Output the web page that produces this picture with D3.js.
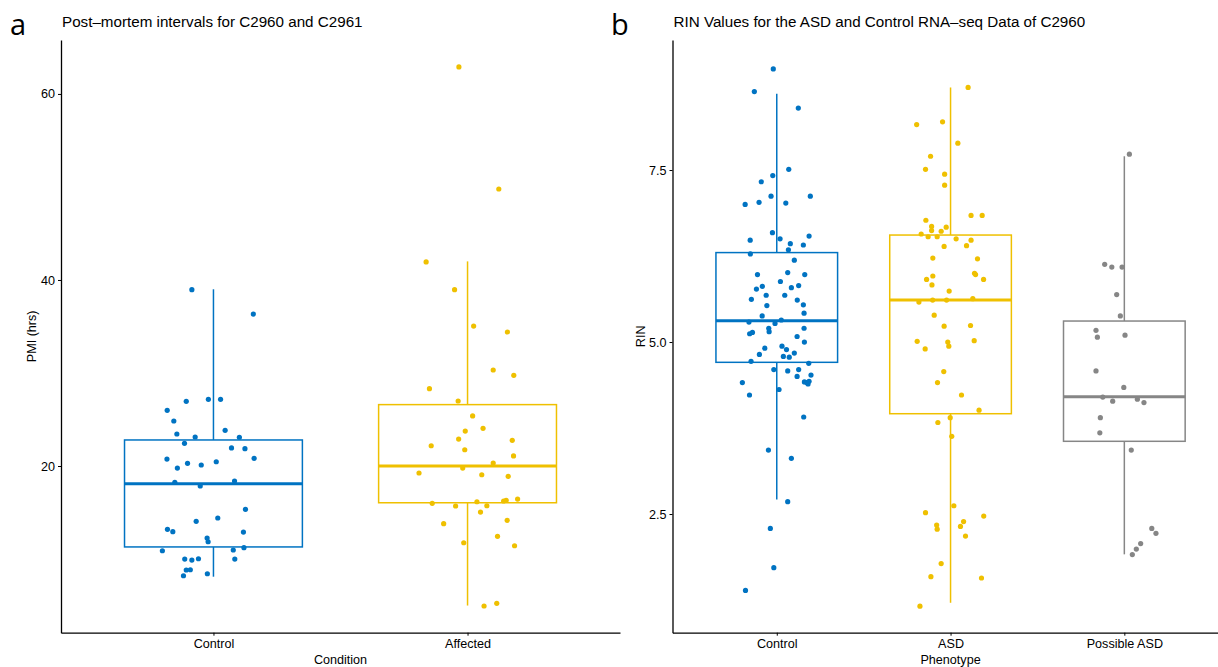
<!DOCTYPE html>
<html>
<head>
<meta charset="utf-8">
<script src="https://cdn.jsdelivr.net/npm/d3@7"></script>
<style>
  body { margin: 0; background: #fff; }
  svg { display: block; font-family: "Liberation Sans", Arial, sans-serif; }
  .axis path, .axis line { stroke: #000; }
  .axis text { fill: #000; font-size: 12.6px; }
</style>
</head>
<body>
<div id="chart"></div>
<script>
// Panel a: post-mortem intervals
var pmiGroups = ['Control', 'Affected'];
var pmiTicks = [20, 40, 60];
// box stats: [lowWhisker, q1, median, q3, highWhisker]
var pmiBoxes = [
    [8.1, 11.3, 18.1, 22.8, 39.0],
    [5.0, 16.05, 20.0, 26.6, 42.0]
];
var pmiControl = [38.96, 36.34, 26.96, 27.17, 27.17, 25.99, 24.84, 23.84, 23.44, 23.12, 23.09, 22.44,
    21.94, 21.86, 20.75, 20.83, 19.78, 20.29, 20.11, 20.46, 18.25, 17.85, 18.39, 15.34, 14.41, 14.05,
    13.19, 12.94, 12.90, 12.26, 11.86, 10.89, 10.97, 11.22, 10.0, 9.89, 10.03, 10.0, 8.82, 8.85, 8.20, 8.42];
var pmiControlJitter = [-0.085, 0.157, -0.107, -0.020, 0.028, -0.182, -0.156, 0.046, -0.144, -0.072, 0.102, -0.114,
    0.071, 0.124, -0.183, 0.160, -0.142, -0.102, -0.048, 0.011, -0.152, -0.052, 0.083, 0.126, 0.017, -0.068,
    -0.181, -0.160, 0.118, -0.025, -0.021, -0.201, 0.078, 0.120, -0.113, -0.085, -0.059, 0.084, -0.107, -0.091, -0.118, -0.024];
var pmiAffected = [62.9, 49.78, 41.94, 38.96, 35.05, 34.41, 30.32, 29.75, 28.31, 26.99, 25.38, 24.05, 23.76,
    22.90, 22.76, 22.18, 21.75, 21.08, 20.32, 19.78, 19.25, 19.06, 18.89, 15.99, 15.70, 16.16, 15.73, 15.05,
    16.24, 16.31, 16.45, 13.80, 14.16, 12.44, 11.75, 11.43, 4.95, 5.24];
var pmiAffectedJitter = [-0.034, 0.123, -0.163, -0.051, 0.024, 0.157, 0.101, 0.182, -0.150, -0.037, 0.020, 0.061, -0.009,
    -0.035, 0.176, -0.143, -0.011, 0.181, 0.101, -0.019, -0.191, 0.056, 0.160, -0.139, -0.047, 0.037, 0.076, 0.051,
    0.142, 0.152, 0.197, -0.094, 0.156, 0.118, -0.015, 0.185, 0.065, 0.115];

// Panel b: RIN values
var rinGroups = ['Control', 'ASD', 'Possible ASD'];
var rinTicks = [2.5, 5.0, 7.5];
var rinBoxes = [
    [2.71, 4.705, 5.31, 6.30, 8.61],
    [1.21, 3.958, 5.61, 6.555, 8.70],
    [1.914, 3.557, 4.205, 5.305, 7.70]
];
var rinControl = [8.97, 8.64, 8.40, 7.51, 7.42, 7.33, 7.12, 7.12, 7.00, 7.03, 7.02, 6.59, 6.48, 6.50, 6.54,
    6.43, 6.41, 6.34, 6.28, 6.19, 5.98, 6.01, 5.98, 5.88, 5.77, 5.81, 5.79, 5.82, 5.68, 5.68, 5.62, 5.61,
    5.53, 5.54, 5.42, 5.38, 5.32, 5.27, 5.29, 5.20, 5.20, 5.12, 5.14, 5.15, 5.08, 5.00, 4.91, 4.94, 4.89,
    4.82, 4.79, 4.78, 4.84, 4.72, 4.69, 4.60, 4.58, 4.60, 4.50, 4.52, 4.41, 4.42, 4.41, 4.39, 4.43, 4.23,
    4.31, 3.91, 3.43, 3.31, 2.68, 2.29, 1.72, 1.39];
var rinControlJitter = [-0.020, -0.129, 0.124, 0.069, -0.023, -0.089, 0.193, -0.033, -0.182, -0.102, 0.052, -0.025,
    -0.153, 0.019, 0.186, 0.078, 0.153, 0.067, -0.152, 0.101, -0.111, 0.063, 0.161, 0.021, -0.117, -0.083, 0.084,
    0.126, -0.061, 0.046, -0.146, 0.118, -0.057, 0.153, 0.157, -0.084, 0.026, -0.010, -0.160, -0.046, 0.157,
    -0.156, -0.140, -0.044, 0.117, 0.159, -0.069, 0.030, 0.056, -0.100, 0.038, 0.072, 0.101, -0.148, 0.184,
    -0.017, 0.063, 0.126, 0.117, 0.197, -0.198, 0.159, 0.172, 0.180, 0.186, -0.157, 0.013, 0.155, -0.048,
    0.084, 0.063, -0.037, -0.017, -0.180];
var rinAsd = [8.70, 8.16, 8.20, 7.89, 7.70, 7.51, 7.44, 7.28, 6.84, 6.84, 6.77, 6.68, 6.67, 6.62, 6.61, 6.57,
    6.53, 6.53, 6.50, 6.48, 6.40, 6.39, 6.22, 6.21, 6.00, 5.98, 5.91, 5.96, 5.83, 5.91, 5.74, 5.58, 5.61,
    5.61, 5.63, 5.39, 5.23, 5.24, 5.01, 4.90, 5.00, 4.94, 5.02, 4.57, 4.41, 4.23, 4.01, 3.90, 3.83, 3.63,
    2.62, 2.52, 2.47, 2.39, 2.34, 2.28, 2.32, 2.18, 1.78, 1.59, 1.57, 1.16];
var rinAsdJitter = [0.101, -0.195, -0.046, 0.042, -0.115, -0.144, -0.034, -0.034, 0.118, 0.182, -0.142, -0.109,
    -0.025, -0.109, -0.054, -0.169, -0.129, -0.077, 0.032, 0.118, 0.092, -0.037, -0.102, 0.155, 0.138, 0.144,
    -0.138, -0.102, -0.107, 0.190, -0.008, -0.182, -0.103, -0.023, 0.128, -0.094, -0.037, 0.115, -0.192, -0.146,
    -0.016, -0.010, 0.136, -0.039, -0.075, 0.063, 0.164, -0.002, -0.073, 0.007, 0.019, -0.144, 0.191, 0.075,
    -0.080, -0.077, 0.057, 0.086, -0.054, -0.113, 0.178, -0.176];
var rinPossible = [7.73, 6.13, 6.09, 6.09, 5.69, 5.38, 5.17, 5.07, 5.10, 4.58, 4.34, 4.20, 4.14, 4.17, 4.12,
    3.90, 3.68, 3.43, 2.29, 2.22, 2.07, 1.99, 1.91];
var rinPossibleJitter = [0.029, -0.113, -0.072, -0.013, -0.044, -0.023, -0.163, -0.155, 0.004, -0.163, -0.003,
    -0.124, -0.067, 0.075, 0.113, -0.138, -0.141, 0.040, 0.158, 0.182, 0.094, 0.069, 0.046];

var colors = ['#0073C2', '#EFC000', '#868686'];

(function () {
    'use strict';

    var svg = d3.select('#chart').append('svg')
        .attr('width', 1218)
        .attr('height', 667);

    drawPanel({
        label: 'a', labelX: 10,
        title: 'Post\u2013mortem intervals for C2960 and C2961',
        left: 61, right: 620, top: 40, bottom: 632.7,
        domain: [2.08, 65.8],
        groups: pmiGroups,
        ticks: pmiTicks, format: d3.format('d'),
        boxes: pmiBoxes,
        values: [pmiControl, pmiAffected],
        jitter: [pmiControlJitter, pmiAffectedJitter],
        yLabel: 'PMI (hrs)', yLabelX: 36,
        xLabel: 'Condition'
    });

    drawPanel({
        label: 'b', labelX: 611,
        title: 'RIN Values for the ASD and Control RNA\u2013seq Data of C2960',
        left: 672.5, right: 1228.6, top: 40, bottom: 632.7,
        domain: [0.775, 9.39],
        groups: rinGroups,
        ticks: rinTicks, format: d3.format('.1f'),
        boxes: rinBoxes,
        values: [rinControl, rinAsd, rinPossible],
        jitter: [rinControlJitter, rinAsdJitter, rinPossibleJitter],
        yLabel: 'RIN', yLabelX: 645,
        xLabel: 'Phenotype'
    });

    function drawPanel(o) {
        var n = o.groups.length;
        var x = d3.scaleLinear().domain([0.4, n + 0.6]).range([o.left, o.right]);
        var y = d3.scaleLinear().domain(o.domain).range([o.bottom, o.top]);
        var boxW = x(0.7) - x(0);
        var g = svg.append('g');

        // panel letter and title
        svg.append('text')
            .attr('x', o.labelX).attr('y', 35)
            .style('font-family', '"Open Sans", "Liberation Sans", sans-serif')
            .style('font-size', '29px')
            .text(o.label);
        svg.append('text')
            .attr('x', o.left + 1).attr('y', 27)
            .style('font-size', '15.2px')
            .text(o.title);

        // boxes
        o.boxes.forEach(function (b, i) {
            var cx = x(i + 1);
            var c = colors[i];
            g.append('line')
                .attr('x1', cx).attr('x2', cx)
                .attr('y1', y(b[3])).attr('y2', y(b[4]))
                .attr('stroke', c).attr('stroke-width', 1.5);
            g.append('line')
                .attr('x1', cx).attr('x2', cx)
                .attr('y1', y(b[1])).attr('y2', y(b[0]))
                .attr('stroke', c).attr('stroke-width', 1.5);
            g.append('rect')
                .attr('x', cx - boxW / 2).attr('width', boxW)
                .attr('y', y(b[3])).attr('height', y(b[1]) - y(b[3]))
                .attr('fill', '#fff').attr('stroke', c).attr('stroke-width', 1.5);
            g.append('line')
                .attr('x1', cx - boxW / 2).attr('x2', cx + boxW / 2)
                .attr('y1', y(b[2])).attr('y2', y(b[2]))
                .attr('stroke', c).attr('stroke-width', 3);
        });

        // jittered points
        o.values.forEach(function (vals, i) {
            g.selectAll('.pt' + i)
                .data(vals)
                .enter()
                .append('circle')
                .attr('cx', function (d, k) { return x(i + 1 + o.jitter[i][k]); })
                .attr('cy', function (d) { return y(d); })
                .attr('r', 2.6)
                .attr('fill', colors[i]);
        });

        // axes
        svg.append('g')
            .attr('class', 'axis')
            .attr('transform', 'translate(' + o.left + ',0)')
            .call(d3.axisLeft(y).tickValues(o.ticks).tickFormat(o.format).tickSizeInner(3).tickSizeOuter(0).tickPadding(3))
            .select('.domain').attr('stroke-width', 1.3);

        svg.append('g')
            .attr('class', 'axis')
            .attr('transform', 'translate(0,' + o.bottom + ')')
            .call(d3.axisBottom(x).tickValues(d3.range(1, n + 1)).tickFormat(function (d) { return o.groups[d - 1]; })
                .tickSizeInner(3).tickSizeOuter(0).tickPadding(3))
            .select('.domain').attr('stroke-width', 1.3);

        // axis titles
        svg.append('text')
            .attr('transform', 'translate(' + o.yLabelX + ',' + ((o.top + o.bottom) / 2) + ') rotate(-90)')
            .attr('text-anchor', 'middle')
            .style('font-size', '12.6px')
            .text(o.yLabel);
        svg.append('text')
            .attr('x', x((n + 1) / 2))
            .attr('y', 664)
            .attr('text-anchor', 'middle')
            .style('font-size', '12.6px')
            .text(o.xLabel);
    }
})();
</script>
</body>
</html>
